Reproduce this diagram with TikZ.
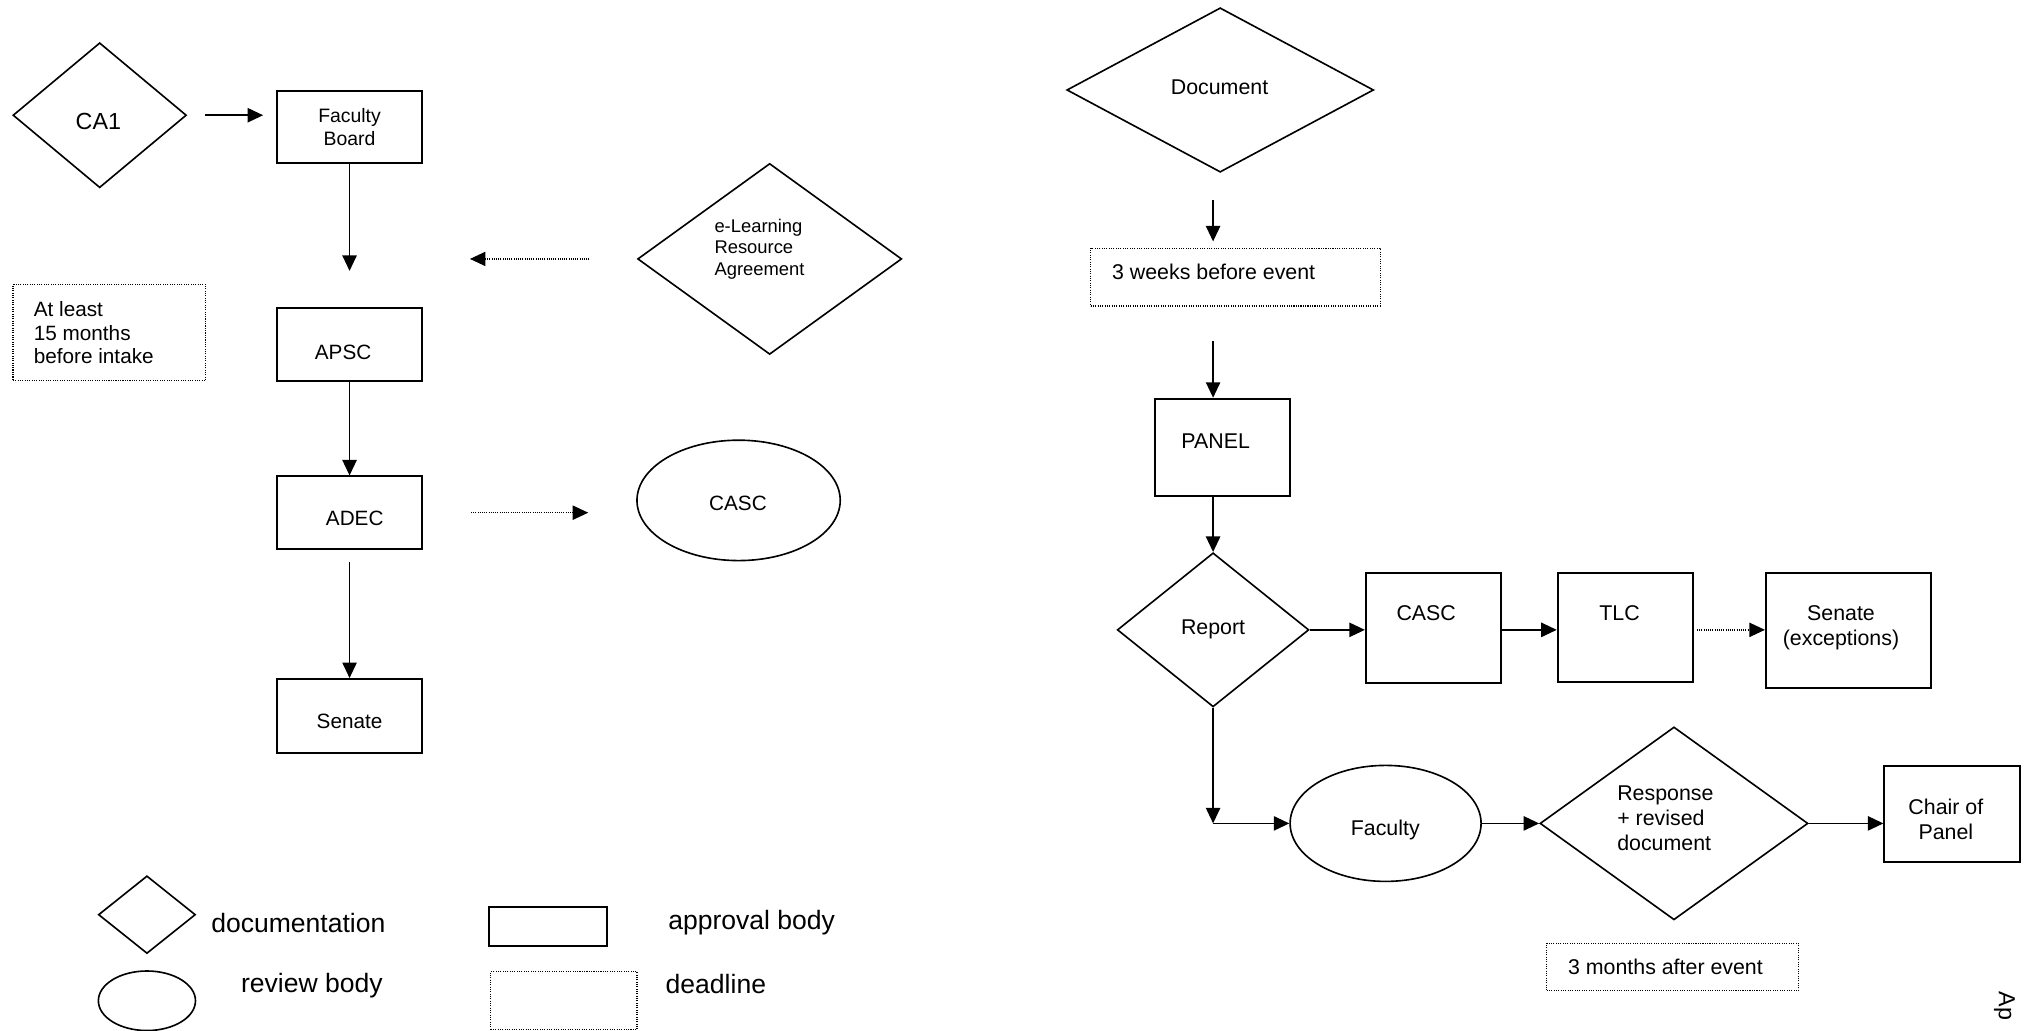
\documentclass[tikz,border=0pt]{standalone}
\usepackage{fontspec}
\setmainfont{Liberation Sans}
\usetikzlibrary{shapes.geometric,arrows.meta}
\begin{document}
\begin{tikzpicture}[x=1pt,y=-1pt,
  box/.style={draw, line width=1.5pt, rectangle, inner sep=0pt},
  ddl/.style={draw, line width=0.9pt, dash pattern=on 0.8pt off 1pt, rectangle, inner sep=0pt},
  dia/.style={draw, line width=1.25pt, diamond, inner sep=0pt},
  ell/.style={draw, line width=1.25pt, ellipse, inner sep=0pt},
  arr/.style={line width=1.4pt, -{Triangle[length=12pt,width=11pt]}},
  darr/.style={line width=1pt, dash pattern=on 0.8pt off 0.9pt, -{Triangle[length=12pt,width=11pt]}},
  txt/.style={inner sep=0pt, font=\fontsize{16.5}{19.5}\selectfont},
  ltxt/.style={inner sep=0pt, font=\fontsize{16}{18}\selectfont},
  gtxt/.style={inner sep=0pt, font=\fontsize{20.5}{24}\selectfont, anchor=west}
]
\useasboundingbox (0,0) rectangle (1568,796);
\fill[white] (0,0) rectangle (1568,796);
\clip (0,0) rectangle (1568,796);

% ---------- left flow ----------
\node[dia, minimum width=134pt, minimum height=112pt] (ca1) at (77,89) {};
\node[inner sep=0pt, font=\fontsize{18}{21}\selectfont] (ca1t) at (76,94) {CA1};
\node[box, minimum width=112pt, minimum height=56pt] (fb) at (270,98) {};
\node[inner sep=0pt, font=\fontsize{15}{18}\selectfont, align=center] (fbt) at (270,98) {Faculty\\Board};
\node[box, minimum width=112pt, minimum height=56pt] (apsc) at (270,266) {};
\node[ltxt] (apsct) at (265,272) {APSC};
\node[box, minimum width=112pt, minimum height=56pt] (adec) at (270,396) {};
\node[ltxt] (adect) at (274,400) {ADEC};
\node[box, minimum width=112pt, minimum height=57pt] (senl) at (270,553) {};
\node[ltxt] (senlt) at (270,557.5) {Senate};

\node[ddl, minimum width=149pt, minimum height=74pt] (dl1) at (84.5,257) {};
\node[ltxt, align=left, anchor=west] (dl1t) at (26,257) {At least\\15 months\\before intake};

\node[dia, minimum width=204pt, minimum height=147.5pt] (el) at (594.5,200) {};
\node[inner sep=0pt, font=\fontsize{14.2}{16.5}\selectfont, align=left, anchor=west] (elt) at (551.7,192.5) {e-Learning\\Resource\\Agreement};
\coordinate (eltip) at (363,200);

\node[ell, minimum width=157pt, minimum height=93pt] (cascl) at (570.5,386.5) {};
\node[ltxt] (casclt) at (570,388.5) {CASC};

\draw[arr, shorten <=14pt, shorten >=10pt] (ca1.east) -- (ca1.east -| fb.west);
\draw[arr, shorten >=28pt] (fb.south) -- (apsc.north);
\draw[darr, shorten <=36.6pt] (el.west) -- (eltip);
\draw[arr] (apsc.south) -- (adec.north);
\draw[arr, shorten <=9pt] (adec.south) -- (senl.north);
\draw[darr, shorten <=37pt, shorten >=37pt] (adec.east) -- (adec.east -| cascl.west);

% ---------- right flow ----------
\node[dia, minimum width=237pt, minimum height=127pt] (doc) at (942.5,69.5) {};
\node[txt] (doct) at (942,67.5) {Document};
\node[ddl, minimum width=223.5pt, minimum height=44.7pt] (wk) at (954.25,214) {};
\node[txt, anchor=west] (wkt) at (858.8,210) {3 weeks before event};
\node[box, minimum width=104.5pt, minimum height=75pt] (panel) at (944.25,345.5) {};
\node[txt] (panelt) at (939,341) {PANEL};
\node[dia, minimum width=148pt, minimum height=119pt] (rep) at (937,486.5) {};
\node[txt] (rept) at (937,486) {Report};
\node[box, minimum width=104.5pt, minimum height=85pt] (casc) at (1107.25,485) {};
\node[txt] (casct) at (1101.6,473.6) {CASC};
\node[box, minimum width=104.8pt, minimum height=84.6pt] (tlc) at (1255.6,484.7) {};
\node[txt] (tlct) at (1251,473.8) {TLC};
\node[box, minimum width=127.3pt, minimum height=89.3pt] (sen) at (1427.65,487) {};
\node[txt, align=center] (sent) at (1422,484.7) {Senate\\(exceptions)};
\coordinate (corner) at (937,636);
\node[ell, minimum width=147.5pt, minimum height=89.6pt] (fac) at (1070.25,636) {};
\node[txt] (fact) at (1070,641) {Faculty};
\node[dia, minimum width=207pt, minimum height=149pt] (resp) at (1293,636) {};
\node[txt, align=left, anchor=west] (respt) at (1249,632) {Response\\+ revised\\document};
\node[box, minimum width=104.5pt, minimum height=74.2pt] (chair) at (1507.75,628.5) {};
\node[txt, align=center] (chairt) at (1503,633) {Chair of\\Panel};
\node[ddl, minimum width=194.3pt, minimum height=36.7pt] (mo) at (1291.85,747) {};
\node[txt, anchor=west] (mot) at (1211,747) {3 months after event};

\draw[arr, shorten <=21pt, shorten >=4.7pt] (doc.south -| rep.north) -- (wk.north -| rep.north);
\draw[arr, shorten <=26.6pt] (wk.south -| rep.north) -- (rep.north |- panel.north);
\draw[arr] (rep.north |- panel.south) -- (rep.north);
\draw[arr] (rep.south) -- (corner);
\draw[arr] (corner) -- (fac.west);
\draw[arr] (rep.east) -- (rep.east -| casc.west);
\draw[arr] (rep.east -| casc.east) -- (rep.east -| tlc.west);
\draw[darr, shorten <=2pt] (rep.east -| tlc.east) -- (rep.east -| sen.west);
\draw[arr] (fac.east) -- (resp.west);
\draw[arr] (resp.east) -- (resp.east -| chair.west);

% ---------- legend ----------
\node[dia, minimum width=75pt, minimum height=60pt] (lgd) at (113.5,706.5) {};
\node[gtxt] (lgdt) at (163,713) {documentation};
\node[box, minimum width=91pt, minimum height=30.4pt] (lgb) at (423.5,715.6) {};
\node[gtxt] (lgbt) at (516,713) {approval body};
\node[ell, minimum width=75pt, minimum height=46pt] (lge) at (113.5,773) {};
\node[gtxt] (lget) at (186,761) {review body};
\node[ddl, minimum width=113pt, minimum height=45pt] (lgl) at (435.5,773) {};
\node[gtxt] (lglt) at (514,760) {deadline};

\node[inner sep=0pt, font=\fontsize{18}{21}\selectfont, rotate=-90, anchor=base west] (ap) at (1544,766) {Ap};
\end{tikzpicture}
\end{document}
